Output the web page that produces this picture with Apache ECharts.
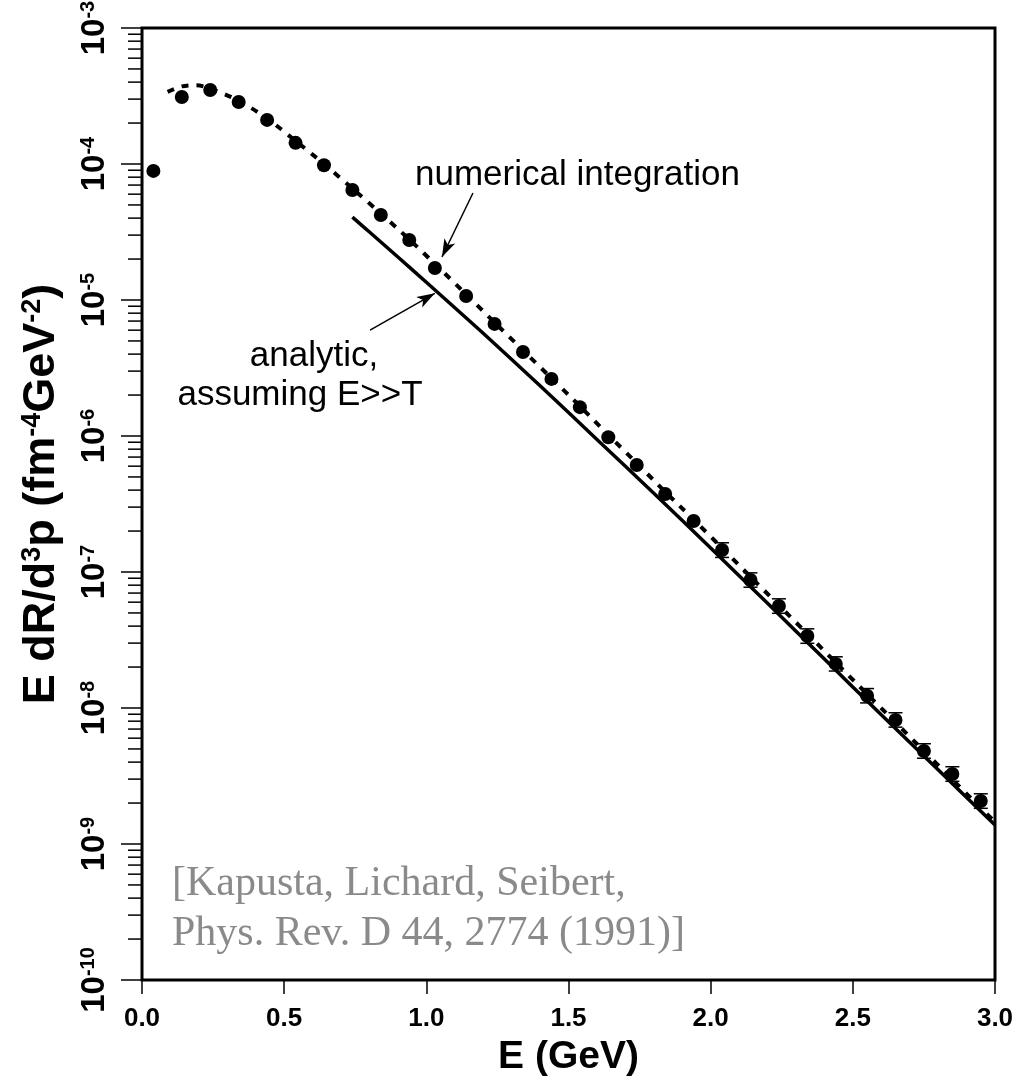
<!DOCTYPE html>
<html><head><meta charset="utf-8">
<script src="https://cdn.jsdelivr.net/npm/echarts@6/dist/echarts.min.js"></script>
<style>html,body{margin:0;padding:0;background:#fff}#c{width:1028px;height:1078px}</style>
</head><body><div id="c"></div>
<script>
// ---- data ----
const pointE = [0.04,0.14,0.24,0.34,0.44,0.54,0.64,0.74,0.84,0.94,1.03,1.14,1.24,1.34,1.44,1.54,1.64,1.74,1.84,1.94,2.04,2.14,2.24,2.34,2.44,2.55,2.65,2.75,2.85,2.95];
const pointRate = [8.9e-5,3.11e-4,3.50e-4,2.86e-4,2.11e-4,1.43e-4,9.8e-5,6.44e-5,4.22e-5,2.76e-5,1.72e-5,1.07e-5,6.67e-6,4.15e-6,2.63e-6,1.63e-6,9.8e-7,6.12e-7,3.75e-7,2.37e-7,1.45e-7,8.73e-8,5.62e-8,3.38e-8,2.11e-8,1.23e-8,8.17e-9,4.83e-9,3.27e-9,2.07e-9];

// small error bars visible on the high-energy points
const errE = [2.04,2.14,2.24,2.34,2.44,2.55,2.65,2.75,2.85,2.95];
const errLow = [1.28e-7,7.73e-8,4.97e-8,2.99e-8,1.87e-8,1.09e-8,7.23e-9,4.27e-9,2.89e-9,1.83e-9];
const errHigh = [1.64e-7,9.86e-8,6.35e-8,3.82e-8,2.38e-8,1.39e-8,9.23e-9,5.46e-9,3.70e-9,2.34e-9];

const numericalE = [0.09,0.14,0.19,0.24,0.34,0.44,0.54,0.64,0.74,0.84,0.94,1.04,1.14,1.24,1.34,1.44,1.54,1.64,1.74,1.84,1.94,2.04,2.14,2.24,2.34,2.44,2.54,2.64,2.74,2.84,2.94,3.0];
const numericalRate = [3.39e-4,3.72e-4,3.80e-4,3.59e-4,2.92e-4,2.16e-4,1.48e-4,1.0e-4,6.61e-5,4.32e-5,2.79e-5,1.76e-5,1.10e-5,6.84e-6,4.27e-6,2.66e-6,1.66e-6,1.02e-6,6.31e-7,3.89e-7,2.43e-7,1.50e-7,9.23e-8,5.69e-8,3.51e-8,2.16e-8,1.33e-8,8.22e-9,5.07e-9,3.13e-9,1.93e-9,1.45e-9];

const analyticE = [0.74,0.8,0.9,1.0,1.2,1.4,1.6,1.8,2.0,2.2,2.4,2.6,2.8,3.0];
const analyticRate = [4.07e-5,3.16e-5,2.07e-5,1.35e-5,5.69e-6,2.34e-6,9.44e-7,3.80e-7,1.50e-7,5.89e-8,2.29e-8,8.91e-9,3.51e-9,1.38e-9];

const xTickLabels = ['0.0','0.5','1.0','1.5','2.0','2.5','3.0'];
const yDecadeExponents = [-10,-9,-8,-7,-6,-5,-4,-3];
const minorMultipliers = [2,3,4,5,6,7,8,9];

// arrows: [tail E, tail rate] -> [head E, head rate]
const arrowNumerical = [[1.164, 6.12e-5],[1.055, 2.07e-5]];
const arrowAnalytic = [[0.802, 6.01e-6],[1.030, 1.12e-5]];

// ---- build ----
const pts = pointE.map((e,i)=>[e, pointRate[i]]);
const num = numericalE.map((e,i)=>[e, numericalRate[i]]);
const ana = analyticE.map((e,i)=>[e, analyticRate[i]]);
const errs = errE.map((e,i)=>[e, errLow[i], errHigh[i]]);
const minorTicks = [];
yDecadeExponents.slice(0,-1).forEach(ex => minorMultipliers.forEach(m => minorTicks.push([0, m*Math.pow(10,ex)])));

const SANS = '"Liberation Sans", Arial, Helvetica, sans-serif';
const chart = echarts.init(document.getElementById('c'), null, {renderer:'canvas'});
chart.setOption({
  animation:false,
  backgroundColor:'#fff',
  grid:{left:142, right:33, top:28, bottom:98, show:true, borderColor:'#000', borderWidth:3, containLabel:false, outerBoundsMode:'none'},
  xAxis:{
    type:'value', min:0, max:3, interval:0.5,
    axisLine:{show:false},
    axisTick:{show:true, inside:false, length:14, lineStyle:{color:'#000', width:1.5}},
    splitLine:{show:false},
    axisLabel:{margin:26, color:'#000', fontSize:26, fontWeight:'bold', fontFamily:SANS,
      formatter:(v)=>xTickLabels[Math.round(v/0.5)]},
    name:'E (GeV)', nameLocation:'middle', nameGap:58,
    nameTextStyle:{color:'#000', fontSize:39, fontWeight:'bold', fontFamily:SANS}
  },
  yAxis:{
    type:'log', logBase:10, min:1e-10, max:1e-3, interval:1,
    axisLine:{show:false},
    axisTick:{show:true, inside:false, length:21, lineStyle:{color:'#000', width:1.5}},
    minorTick:{show:false},
    splitLine:{show:false},
    axisLabel:{
      rotate:90, margin:30, color:'#000', fontSize:33, fontWeight:'bold', fontFamily:SANS,
      formatter:(v)=>{const e=Math.round(Math.log10(v)); return '{a|10}{b|'+e+'}';},
      rich:{
        a:{fontSize:33, fontWeight:'bold', fontFamily:SANS, color:'#000', lineHeight:34},
        b:{fontSize:20, fontWeight:'bold', fontFamily:SANS, color:'#000', verticalAlign:'top', lineHeight:20}
      }
    }
  },
  graphic:[
    {type:'text', x:42, y:494, rotation:Math.PI/2, silent:true,
      style:{text:'{t|E dR/d}{s|3}{t|p (fm}{s|-4}{t|GeV}{s|-2}{t|)}', textAlign:'center', textVerticalAlign:'middle',
        rich:{
          t:{fontSize:45, fontWeight:'bold', fontFamily:SANS, fill:'#000', lineHeight:46},
          s:{fontSize:27, fontWeight:'bold', fontFamily:SANS, fill:'#000', verticalAlign:'top', lineHeight:27}
        }}},
    {type:'text', x:415, y:175, silent:true,
      style:{text:'numerical integration', font:'35px '+SANS, fill:'#000', textAlign:'left', textVerticalAlign:'middle'}},
    {type:'text', x:314, y:356, silent:true,
      style:{text:'analytic,', font:'35px '+SANS, fill:'#000', textAlign:'center', textVerticalAlign:'middle'}},
    {type:'text', x:300, y:395, silent:true,
      style:{text:'assuming E>>T', font:'35px '+SANS, fill:'#000', textAlign:'center', textVerticalAlign:'middle'}},
    {type:'text', x:172, y:884, silent:true,
      style:{text:'[Kapusta, Lichard, Seibert,', font:'42px "Liberation Serif", "Times New Roman", serif', fill:'#8a8a8a', textAlign:'left', textVerticalAlign:'middle'}},
    {type:'text', x:172, y:934, silent:true,
      style:{text:'Phys. Rev. D 44, 2774 (1991)]', font:'42px "Liberation Serif", "Times New Roman", serif', fill:'#8a8a8a', textAlign:'left', textVerticalAlign:'middle'}}
  ],
  series:[
    {type:'custom', name:'minor ticks', clip:false, silent:true, data:minorTicks,
      renderItem:(params, api)=>{
        const p = api.coord([api.value(0), api.value(1)]);
        return {type:'line', shape:{x1:p[0]-14, y1:p[1], x2:p[0]-1, y2:p[1]}, style:{stroke:'#000', lineWidth:1.5}};
      }},
    {type:'line', name:'numerical integration', data:num, showSymbol:false, smooth:0.3, z:3,
      lineStyle:{color:'#000', width:4, type:[7,8]}},
    {type:'line', name:'analytic', data:ana, showSymbol:false, smooth:0.3, z:3,
      lineStyle:{color:'#000', width:3.5}},
    {type:'custom', name:'error bars', silent:true, z:4, data:errs,
      renderItem:(params, api)=>{
        const lo = api.coord([api.value(0), api.value(1)]);
        const hi = api.coord([api.value(0), api.value(2)]);
        const w = 7;
        return {type:'group', children:[
          {type:'line', shape:{x1:lo[0], y1:lo[1], x2:hi[0], y2:hi[1]}, style:{stroke:'#000', lineWidth:1.5}},
          {type:'line', shape:{x1:hi[0]-w, y1:hi[1], x2:hi[0]+w, y2:hi[1]}, style:{stroke:'#000', lineWidth:1.5}},
          {type:'line', shape:{x1:lo[0]-w, y1:lo[1], x2:lo[0]+w, y2:lo[1]}, style:{stroke:'#000', lineWidth:1.5}}
        ]};
      }},
    {type:'scatter', name:'points', data:pts, symbol:'circle', symbolSize:14, z:5,
      itemStyle:{color:'#000', opacity:1},
      markLine:{silent:true, symbol:['none','arrow'], symbolSize:[9,18], label:{show:false},
        lineStyle:{color:'#000', width:1.5, type:'solid', opacity:1},
        data:[
          [{coord:arrowNumerical[0]},{coord:arrowNumerical[1]}],
          [{coord:arrowAnalytic[0]},{coord:arrowAnalytic[1]}]
        ]}}
  ]
});
</script></body></html>
